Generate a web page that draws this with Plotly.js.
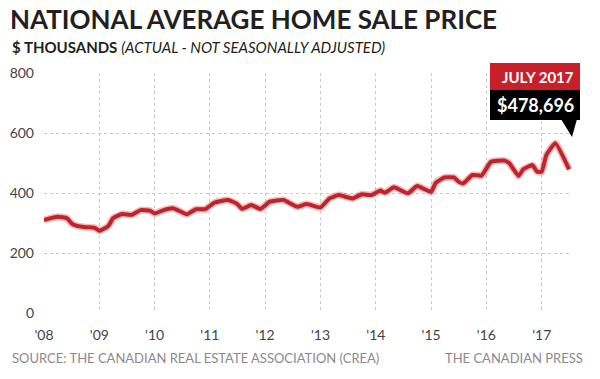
<!DOCTYPE html>
<html>
<head>
<meta charset="utf-8">
<script src="https://cdn.plot.ly/plotly-3.0.1.min.js"></script>
<style>html,body{margin:0;padding:0;background:#fff;}#chart{width:600px;height:379px;}</style>
</head>
<body>
<div id="chart"></div>
<script>
// Dates (month) and average price in $ thousands
const months = [
  '2008-01-01','2008-04-01','2008-06-01','2008-07-01','2008-08-01','2008-10-01','2008-12-01',
  '2009-01-01','2009-03-01','2009-04-01','2009-06-01','2009-08-01','2009-10-01','2009-12-01',
  '2010-01-01','2010-03-01','2010-05-01','2010-06-01','2010-08-01','2010-10-01','2010-12-01',
  '2011-02-01','2011-05-01','2011-07-01','2011-08-01','2011-10-01','2011-12-01',
  '2012-02-01','2012-05-01','2012-06-01','2012-08-01','2012-10-01',
  '2013-01-01','2013-03-01','2013-05-01','2013-08-01','2013-10-01','2013-12-01',
  '2014-02-01','2014-03-01','2014-05-01','2014-08-01','2014-10-01',
  '2015-01-01','2015-02-01','2015-04-01','2015-06-01','2015-07-01','2015-08-01','2015-10-01','2015-12-01',
  '2016-02-01','2016-05-01','2016-06-01','2016-08-01','2016-09-01','2016-11-01','2016-12-01',
  '2017-01-01','2017-02-01','2017-04-01','2017-07-01'
];
const prices = [
  310,321,316,299,291,286,284,
  274,290,316,330,327,343,341,
  332,343,349,343,329,346,346,
  368,377,363,347,360,347,
  371,377,369,354,363,
  352,382,393,382,396,393,
  408,401,419,399,423,
  404,434,452,452,438,432,460,458,
  504,508,499,457,479,493,471,
  471,527,566,478.696
];
const yearTicks = ['2008-01-01','2009-01-01','2010-01-01','2011-01-01','2012-01-01','2013-01-01','2014-01-01','2015-01-01','2016-01-01','2017-01-01'];
const yearLabels = ["'08","'09","'10","'11","'12","'13","'14","'15","'16","'17"];
const yTicks = [0,200,400,600,800];
const calloutLabel = 'JULY 2017';

const lastVal = prices[prices.length-1];
const lastText = '$' + Math.round(lastVal*1000).toLocaleString('en-US');

const FONT = 'Lato, "Open Sans", sans-serif';
const red = '#c1232b';

// paper-coordinate helpers (plot area 44..572 x 73..313)
const px = v => (v-44)/528;
const py = v => (313-v)/240;

const data = [
  {x: months, y: prices, type:'scatter', mode:'lines',
   line:{color:'rgba(210,60,60,0.35)', width:7, shape:'spline', smoothing:0.4}, hoverinfo:'skip', showlegend:false},
  {x: months, y: prices, type:'scatter', mode:'lines',
   line:{color:red, width:4, shape:'spline', smoothing:0.4}, showlegend:false}
];

const layout = {
  width:600, height:379,
  margin:{l:44, r:28, t:73, b:66},
  paper_bgcolor:'#fff', plot_bgcolor:'#fff',
  font:{family:FONT, color:'#333'},
  title:{text:'<b>NATIONAL AVERAGE HOME SALE PRICE</b>', x:10/600, xanchor:'left', xref:'container',
         y:1-20/379, yanchor:'middle', yref:'container', font:{family:FONT, size:26, color:'#231f20'}},
  xaxis:{type:'date', range:['2008-01-01','2017-07-20'], tickvals:yearTicks, ticktext:yearLabels,
         showgrid:true, gridcolor:'#c8c8c8', griddash:'dot', gridwidth:1, zeroline:false, showline:false,
         ticks:'', ticklabelstandoff:12, tickfont:{size:14, color:'#444'}, fixedrange:true},
  yaxis:{range:[0,800], tickvals:yTicks, showgrid:true, gridcolor:'#c8c8c8', griddash:'dot', gridwidth:1,
         zeroline:false, showline:false, ticks:'', ticklabelstandoff:9, tickfont:{size:14, color:'#444'}, fixedrange:true},
  shapes:[
    {type:'rect', xref:'paper', yref:'paper', x0:px(490), x1:px(580), y0:py(90), y1:py(63), fillcolor:'#c8202a', line:{width:0}},
    {type:'rect', xref:'paper', yref:'paper', x0:px(490), x1:px(580), y0:py(120), y1:py(90), fillcolor:'#000', line:{width:0}},
    {type:'path', xref:'paper', yref:'paper',
     path:`M ${px(561)} ${py(119)} L ${px(577)} ${py(119)} L ${px(572)} ${py(137)} Z`, fillcolor:'#000', line:{width:0}}
  ],
  annotations:[
    {text:'<b>$ THOUSANDS</b> <i>(ACTUAL - NOT SEASONALLY ADJUSTED)</i>', xref:'paper', yref:'paper',
     x:px(10), y:py(47), xanchor:'left', yanchor:'middle', showarrow:false, font:{family:FONT, size:15, color:'#231f20'}},
    {text:'<b>'+calloutLabel+'</b>', xref:'paper', yref:'paper', x:px(576), y:py(77), xanchor:'right', yanchor:'middle',
     showarrow:false, font:{family:FONT, size:15, color:'#fff'}},
    {text:'<b>'+lastText+'</b>', xref:'paper', yref:'paper', x:px(576), y:py(105), xanchor:'right', yanchor:'middle',
     showarrow:false, font:{family:FONT, size:18, color:'#fff'}},
    {text:'SOURCE: THE CANADIAN REAL ESTATE ASSOCIATION (CREA)', xref:'paper', yref:'paper', x:px(10), y:py(358),
     xanchor:'left', yanchor:'middle', showarrow:false, font:{family:FONT, size:13, color:'#8a8a8a'}},
    {text:'THE CANADIAN PRESS', xref:'paper', yref:'paper', x:px(585), y:py(358),
     xanchor:'right', yanchor:'middle', showarrow:false, font:{family:FONT, size:13, color:'#8a8a8a'}}
  ]
};

Plotly.newPlot('chart', data, layout, {displayModeBar:false, staticPlot:true});
</script>
</body>
</html>
